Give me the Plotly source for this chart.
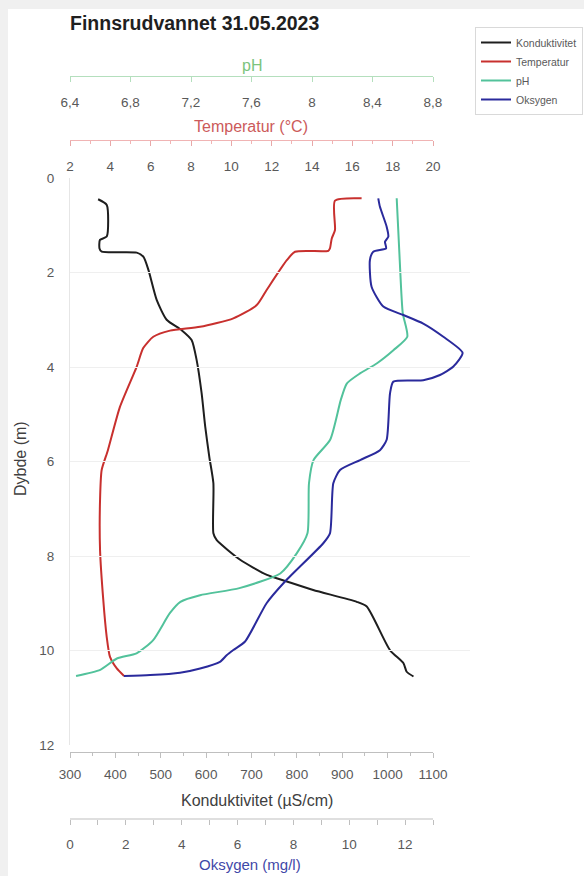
import plotly.graph_objects as go

# ---- Depth profile data (depth in m) ----
KOND_DEPTH = [0.45, 0.57, 1.24, 1.31, 1.49, 1.56, 1.58, 1.67, 1.95, 2.58, 3.00, 3.22, 3.43, 3.85, 4.55,
              5.26, 5.90, 6.46, 7.52, 7.66, 8.08, 8.40, 8.54, 8.72, 8.97, 9.07, 9.99, 10.27, 10.45, 10.55]
KOND = [362, 381, 381, 366, 365, 370, 447, 462, 473, 491, 513, 546, 568, 579, 590,
        598, 607, 616, 616, 623, 675, 734, 778, 836, 932, 954, 1005, 1035, 1042, 1057]

TEMP_DEPTH = [0.43, 0.48, 1.10, 1.28, 1.49, 1.54, 1.56, 1.74, 2.37, 2.69, 2.97, 3.15, 3.23,
              3.36, 3.60, 3.99, 4.84, 5.76, 6.18, 6.81, 7.87, 8.93, 9.71, 10.13, 10.38, 10.54]
TEMP = [16.46, 15.14, 15.14, 14.98, 14.89, 14.81, 13.16, 12.75, 11.75, 11.26, 10.10, 8.45, 6.96,
        6.13, 5.63, 5.31, 4.48, 3.88, 3.57, 3.49, 3.49, 3.65, 3.82, 3.98, 4.32, 4.68]

PH_DEPTH = [0.43, 1.74, 2.86, 3.36, 3.64, 3.92, 4.13, 4.35, 4.70, 5.54, 5.97, 6.46,
            7.52, 7.94, 8.37, 8.68, 8.83, 8.97, 9.21, 9.78, 10.06, 10.17, 10.41, 10.54]
PH = [8.56, 8.58, 8.60, 8.63, 8.54, 8.43, 8.32, 8.23, 8.19, 8.12, 8.01, 7.98,
      7.97, 7.90, 7.79, 7.52, 7.26, 7.13, 7.06, 6.95, 6.84, 6.71, 6.60, 6.44]

OKS_DEPTH = [0.43, 0.61, 1.03, 1.24, 1.35, 1.49, 1.56, 1.74, 2.30, 2.72, 2.90, 3.08,
             3.36, 3.70, 3.99, 4.17, 4.28, 4.31, 4.56, 5.54, 5.76, 5.97, 6.18, 6.46,
             7.52, 7.73, 8.54, 9.00, 9.81, 9.99, 10.10, 10.24, 10.38, 10.47, 10.52, 10.54]
OKS = [11.04, 11.10, 11.34, 11.40, 11.28, 11.32, 10.86, 10.74, 10.80, 11.22, 11.94, 12.65,
       13.37, 14.06, 13.73, 13.25, 12.65, 11.58, 11.46, 11.34, 11.10, 10.39, 9.67, 9.43,
       9.31, 9.07, 7.70, 7.04, 6.27, 5.85, 5.61, 5.37, 4.66, 3.94, 2.87, 1.93]

# ---- Axis ticks ----
DEPTH_TICKS = [0, 2, 4, 6, 8, 10, 12]
KOND_TICKS = [300, 400, 500, 600, 700, 800, 900, 1000, 1100]
TEMP_TICKS = [2, 4, 6, 8, 10, 12, 14, 16, 18, 20]
PH_TICKS = [6.4, 6.8, 7.2, 7.6, 8.0, 8.4, 8.8]
PH_TICKTEXT = ["6,4", "6,8", "7,2", "7,6", "8", "8,4", "8,8"]
OKS_TICKS = list(range(0, 14))
OKS_TICKTEXT = [str(v) if v % 2 == 0 else "" for v in OKS_TICKS]

TITLE = "Finnsrudvannet 31.05.2023"
NAMES = ["Konduktivitet", "Temperatur", "pH", "Oksygen"]
COLORS = ["#1e1e1e", "#c8302e", "#52c29b", "#2a2a9c"]

# ---- Page geometry (pixels) ----
W, H = 584, 876
PLOT_L, PLOT_R = 70, 433      # shared horizontal extent of the scales
OVERFLOW_R = 470              # oxygen peak runs past the right edge
PLOT_T, PLOT_B = 178, 745


def px(x):
    return x / W


def py(y):
    return (H - y) / H


FONT = "Liberation Sans, Arial, sans-serif"
TICK_FONT = dict(family=FONT, size=13.5, color="#595959")
GREY = "#bfbfbf"

oks_max = OKS_TICKS[-1]
oks_range_max = oks_max * (OVERFLOW_R - PLOT_L) / (PLOT_R - PLOT_L)

fig = go.Figure()
fig.add_trace(go.Scatter(x=KOND, y=KOND_DEPTH, name=NAMES[0], xaxis="x", yaxis="y", mode="lines",
                         line=dict(color=COLORS[0], width=2, shape="spline", smoothing=0.6)))
fig.add_trace(go.Scatter(x=TEMP, y=TEMP_DEPTH, name=NAMES[1], xaxis="x2", yaxis="y", mode="lines",
                         line=dict(color=COLORS[1], width=2, shape="spline", smoothing=0.6)))
fig.add_trace(go.Scatter(x=PH, y=PH_DEPTH, name=NAMES[2], xaxis="x3", yaxis="y", mode="lines",
                         line=dict(color=COLORS[2], width=2, shape="spline", smoothing=0.6)))
fig.add_trace(go.Scatter(x=OKS, y=OKS_DEPTH, name=NAMES[3], xaxis="x4", yaxis="y", mode="lines",
                         line=dict(color=COLORS[3], width=2, shape="spline", smoothing=0.6)))

common_x = dict(showgrid=False, zeroline=False, ticks="outside", ticklen=5, tickfont=TICK_FONT,
                side="bottom", anchor="free", fixedrange=True, automargin=False)


def label(text, x, y, size, color, angle=0):
    return dict(text=text, x=px(x), y=py(y), xref="paper", yref="paper", showarrow=False,
                xanchor="center", yanchor="middle", textangle=angle,
                font=dict(family=FONT, size=size, color=color))


fig.update_layout(
    width=W, height=H,
    margin=dict(l=0, r=0, t=0, b=0, pad=0, autoexpand=False),
    paper_bgcolor="#f0f0f0",
    plot_bgcolor="rgba(0,0,0,0)",
    separators=",.",
    font=dict(family=FONT, color="#595959"),
    title=dict(text=TITLE, x=px(PLOT_L), xanchor="left", y=py(23), yanchor="middle",
               font=dict(family=FONT, size=19.5, color="#1f1f1f", weight="bold")),
    xaxis=dict(common_x, domain=[px(PLOT_L), px(PLOT_R)], range=[KOND_TICKS[0], KOND_TICKS[-1]],
               tickvals=KOND_TICKS, position=py(752), showline=True, linecolor=GREY,
               tickcolor=GREY, ticklabelstandoff=5,
               minor=dict(ticks="outside", ticklen=3, dtick=50, tickcolor=GREY, showgrid=False)),
    xaxis2=dict(common_x, overlaying="x", range=[TEMP_TICKS[0], TEMP_TICKS[-1]], tickvals=TEMP_TICKS,
                position=py(140), showline=True, linecolor="#f0b4b4", tickcolor="#e8a8a8",
                ticklabelstandoff=9,
                minor=dict(ticks="outside", ticklen=3, dtick=1, tickcolor="#f0b4b4", showgrid=False)),
    xaxis3=dict(common_x, overlaying="x", range=[PH_TICKS[0], PH_TICKS[-1]], tickvals=PH_TICKS,
                ticktext=PH_TICKTEXT, position=py(76), showline=True, linecolor="#b4dfbd",
                tickcolor="#b4dfbd", ticklabelstandoff=9),
    xaxis4=dict(common_x, domain=[px(PLOT_L), px(OVERFLOW_R)], range=[0, oks_range_max],
                tickvals=OKS_TICKS, ticktext=OKS_TICKTEXT, position=py(819), showline=False,
                tickcolor=GREY, ticklabelstandoff=8),
    yaxis=dict(domain=[py(PLOT_B), py(PLOT_T)], range=[DEPTH_TICKS[-1], DEPTH_TICKS[0]],
               tickvals=DEPTH_TICKS, anchor="x", showgrid=True, gridcolor="#efefef", gridwidth=1,
               zeroline=False, showline=True, linecolor="#e6e6e6", ticks="", tickfont=TICK_FONT,
               ticklabelstandoff=12, fixedrange=True, automargin=False),
    legend=dict(x=px(475), y=py(27), xanchor="left", yanchor="top", bgcolor="white",
                bordercolor="#d9d9d9", borderwidth=1, itemwidth=30,
                font=dict(family=FONT, size=10.5, color="#595959")),
    shapes=[
        # white chart panel inside the grey frame
        dict(type="rect", xref="paper", yref="paper", x0=px(8), x1=1, y0=0, y1=py(9),
             fillcolor="white", line=dict(width=0), layer="below"),
        # oxygen axis line, ending at the last tick
        dict(type="line", xref="x4", yref="paper", x0=OKS_TICKS[0], x1=oks_max,
             y0=py(819), y1=py(819), line=dict(color=GREY, width=1)),
    ],
    annotations=[
        label("pH", 252, 65, 16, "#7cc47c"),
        label("Temperatur (°C)", 251, 126, 16, "#cc5a5a"),
        label("Konduktivitet (µS/cm)", 257, 800, 16, "#404040"),
        label("Oksygen (mg/l)", 250, 864, 15, "#3f48a8"),
        label("Dybde (m)", 20, 459, 16, "#404040", angle=-90),
    ],
)

fig.write_html("out.html")
